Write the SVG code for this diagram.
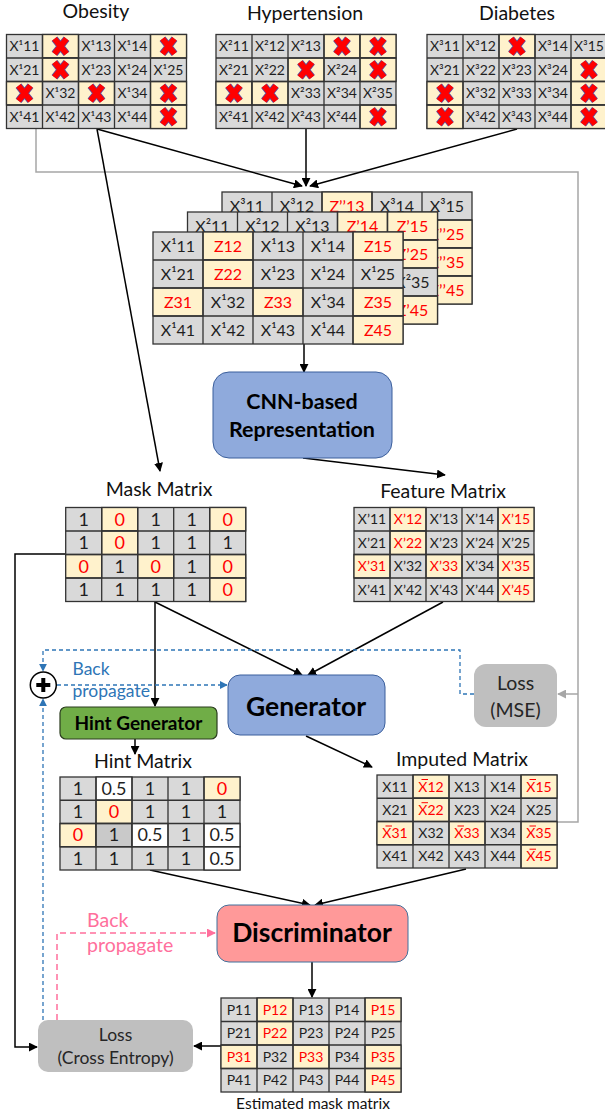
<svg xmlns="http://www.w3.org/2000/svg" xmlns:xlink="http://www.w3.org/1999/xlink" width="605" height="1118" viewBox="0 0 605 1118">
<style>
  .g{fill:#d9d9d9;stroke:#333;stroke-width:1.3}
  .g2{fill:#c9c9c9;stroke:#333;stroke-width:1.3}
  .y{fill:#fff2cc;stroke:#333;stroke-width:1.3}
  .w{fill:#ffffff;stroke:#333;stroke-width:1.3}
  .grid{fill:none;stroke:#333;stroke-width:1.3}
  text{font-family:Lato,"Open Sans",sans-serif;fill:#1f1f1f}
  .c13{font-size:14px;text-anchor:middle}
  .c15{font-size:16px;text-anchor:middle}
  .c17{font-size:18px;text-anchor:middle}
  .r{fill:#ff0000}
  .title{font-size:19.5px;text-anchor:middle;fill:#111}
  .bold{font-weight:bold;text-anchor:middle;fill:#000}
  .ln{fill:none;stroke:#000;stroke-width:1.5}
  .gray{fill:none;stroke:#a6a6a6;stroke-width:1.5}
  .blue{fill:none;stroke:#2e75b6;stroke-width:1.3;stroke-dasharray:4 3}
  .pink{fill:none;stroke:#ff6f9c;stroke-width:1.5;stroke-dasharray:6 4}
  .bar{stroke:#ff0000;stroke-width:1}
</style>
<defs>
  <marker id="ah" viewBox="0 0 10 10" refX="9" refY="5" markerWidth="9" markerHeight="9" markerUnits="userSpaceOnUse" orient="auto">
    <path d="M0,0 L10,5 L0,10 z" fill="#000"/>
  </marker>
  <marker id="ahg" viewBox="0 0 10 10" refX="9" refY="5" markerWidth="9" markerHeight="9" markerUnits="userSpaceOnUse" orient="auto">
    <path d="M0,0 L10,5 L0,10 z" fill="#a6a6a6"/>
  </marker>
  <marker id="ahb" viewBox="0 0 10 10" refX="9" refY="5" markerWidth="8" markerHeight="8" markerUnits="userSpaceOnUse" orient="auto">
    <path d="M0,0 L10,5 L0,10 z" fill="#2e75b6"/>
  </marker>
  <marker id="ahp" viewBox="0 0 10 10" refX="9" refY="5" markerWidth="9" markerHeight="9" markerUnits="userSpaceOnUse" orient="auto">
    <path d="M0,0 L10,5 L0,10 z" fill="#ff6f9c"/>
  </marker>
  <!-- missing-value cross -->
  <g id="xm">
    <path d="M-6,-7.5 L6,7.5 M6,-7.5 L-6,7.5" stroke="#5b4fa0" stroke-width="7.4" fill="none"/>
    <path d="M-6,-7.5 L6,7.5 M6,-7.5 L-6,7.5" stroke="#ff0000" stroke-width="5.8" fill="none"/>
  </g>
  <path id="grid5x4s" d="M36,0V94M72,0V94M108,0V94M144,0V94M0,23.5H180M0,47H180M0,70.5H180"/>
  <path id="grid5x4l" d="M50,0V112M100,0V112M150,0V112M200,0V112M0,28H250M0,56H250M0,84H250"/>
</defs>

<!-- connectors -->
<g id="connectors">
  <polyline class="gray" points="36,129 36,172 578,172 578,822 557,822"/>
  <line class="gray" x1="578" y1="694" x2="558" y2="694" marker-end="url(#ahg)"/>
  <line class="ln" x1="97" y1="129" x2="302" y2="186" marker-end="url(#ah)"/>
  <line class="ln" x1="306" y1="129" x2="306" y2="186" marker-end="url(#ah)"/>
  <line class="ln" x1="517" y1="129" x2="310" y2="186" marker-end="url(#ah)"/>
  <line class="ln" x1="304" y1="344" x2="304" y2="372" marker-end="url(#ah)"/>
  <line class="ln" x1="97" y1="129" x2="160" y2="471" marker-end="url(#ah)"/>
  <line class="ln" x1="303" y1="458" x2="445" y2="475" marker-end="url(#ah)"/>
  <line class="ln" x1="155" y1="602" x2="155" y2="706" marker-end="url(#ah)"/>
  <line class="ln" x1="155" y1="602" x2="302" y2="675" marker-end="url(#ah)"/>
  <line class="ln" x1="443" y1="602" x2="308" y2="675" marker-end="url(#ah)"/>
  <line class="ln" x1="135" y1="739" x2="135" y2="754" marker-end="url(#ah)"/>
  <line class="ln" x1="306" y1="736" x2="372" y2="767" marker-end="url(#ah)"/>
  <line class="ln" x1="150" y1="870" x2="310" y2="905" marker-end="url(#ah)"/>
  <line class="ln" x1="466" y1="869" x2="315" y2="905" marker-end="url(#ah)"/>
  <line class="ln" x1="312" y1="962" x2="312" y2="997" marker-end="url(#ah)"/>
  <line class="ln" x1="221" y1="1046" x2="194" y2="1046" marker-end="url(#ah)"/>
  <polyline class="ln" points="65.7,554 15,554 15,1047 37,1047" marker-end="url(#ah)"/>
  <polyline class="blue" points="474,694 460,694 460,650 43,650 43,671" marker-end="url(#ahb)"/>
  <line class="blue" x1="57" y1="685" x2="227" y2="685" marker-end="url(#ahb)"/>
  <line class="blue" x1="43" y1="1020" x2="43" y2="699" marker-end="url(#ahb)"/>
  <polyline class="pink" points="57,1020 57,933 215,933" marker-end="url(#ahp)"/>
  <text x="72.5" y="675" style="font-size:17.5px;fill:#2e75b6">Back</text>
  <text x="72.5" y="697" style="font-size:17.5px;fill:#2e75b6">propagate</text>
  <text x="87" y="927" style="font-size:19.5px;fill:#ff6f9c">Back</text>
  <text x="87" y="952" style="font-size:19.5px;fill:#ff6f9c">propagate</text>
</g>

<!-- Obesity -->
<g id="obesity">
  <text class="title" x="96" y="18">Obesity</text>
  <g transform="translate(6.5,34.5)">
    <rect class="g" width="180" height="94"/>
    <rect class="y" x="36" y="0" width="36" height="23.5"/>
    <rect class="y" x="144" y="0" width="36" height="23.5"/>
    <rect class="y" x="36" y="23.5" width="36" height="23.5"/>
    <rect class="y" x="0" y="47" width="36" height="23.5"/>
    <rect class="y" x="72" y="47" width="36" height="23.5"/>
    <rect class="y" x="144" y="47" width="36" height="23.5"/>
    <rect class="y" x="144" y="70.5" width="36" height="23.5"/>
    <use xlink:href="#grid5x4s" class="grid"/>
    <use xlink:href="#xm" x="54" y="11.75"/>
    <use xlink:href="#xm" x="162" y="11.75"/>
    <use xlink:href="#xm" x="54" y="35.25"/>
    <use xlink:href="#xm" x="18" y="58.75"/>
    <use xlink:href="#xm" x="90" y="58.75"/>
    <use xlink:href="#xm" x="162" y="58.75"/>
    <use xlink:href="#xm" x="162" y="82.25"/>
    <text class="c13" x="18" y="16.8">X¹11</text>
    <text class="c13" x="90" y="16.8">X¹13</text>
    <text class="c13" x="126" y="16.8">X¹14</text>
    <text class="c13" x="18" y="40.3">X¹21</text>
    <text class="c13" x="90" y="40.3">X¹23</text>
    <text class="c13" x="126" y="40.3">X¹24</text>
    <text class="c13" x="162" y="40.3">X¹25</text>
    <text class="c13" x="54" y="63.8">X¹32</text>
    <text class="c13" x="126" y="63.8">X¹34</text>
    <text class="c13" x="18" y="87.3">X¹41</text>
    <text class="c13" x="54" y="87.3">X¹42</text>
    <text class="c13" x="90" y="87.3">X¹43</text>
    <text class="c13" x="126" y="87.3">X¹44</text>
  </g>
</g>

<!-- Hypertension -->
<g id="hypertension">
  <text class="title" x="305" y="20">Hypertension</text>
  <g transform="translate(216,34.5)">
    <rect class="g" width="180" height="94"/>
    <rect class="y" x="108" y="0" width="36" height="23.5"/>
    <rect class="y" x="144" y="0" width="36" height="23.5"/>
    <rect class="y" x="72" y="23.5" width="36" height="23.5"/>
    <rect class="y" x="144" y="23.5" width="36" height="23.5"/>
    <rect class="y" x="0" y="47" width="36" height="23.5"/>
    <rect class="y" x="36" y="47" width="36" height="23.5"/>
    <rect class="y" x="144" y="70.5" width="36" height="23.5"/>
    <use xlink:href="#grid5x4s" class="grid"/>
    <use xlink:href="#xm" x="126" y="11.75"/>
    <use xlink:href="#xm" x="162" y="11.75"/>
    <use xlink:href="#xm" x="90" y="35.25"/>
    <use xlink:href="#xm" x="162" y="35.25"/>
    <use xlink:href="#xm" x="18" y="58.75"/>
    <use xlink:href="#xm" x="54" y="58.75"/>
    <use xlink:href="#xm" x="162" y="82.25"/>
    <text class="c13" x="18" y="16.8">X²11</text>
    <text class="c13" x="54" y="16.8">X²12</text>
    <text class="c13" x="90" y="16.8">X²13</text>
    <text class="c13" x="18" y="40.3">X²21</text>
    <text class="c13" x="54" y="40.3">X²22</text>
    <text class="c13" x="126" y="40.3">X²24</text>
    <text class="c13" x="90" y="63.8">X²33</text>
    <text class="c13" x="126" y="63.8">X²34</text>
    <text class="c13" x="162" y="63.8">X²35</text>
    <text class="c13" x="18" y="87.3">X²41</text>
    <text class="c13" x="54" y="87.3">X²42</text>
    <text class="c13" x="90" y="87.3">X²43</text>
    <text class="c13" x="126" y="87.3">X²44</text>
  </g>
</g>

<!-- Diabetes -->
<g id="diabetes">
  <text class="title" x="517" y="20">Diabetes</text>
  <g transform="translate(427,34.5)">
    <rect class="g" width="180" height="94"/>
    <rect class="y" x="72" y="0" width="36" height="23.5"/>
    <rect class="y" x="144" y="23.5" width="36" height="23.5"/>
    <rect class="y" x="0" y="47" width="36" height="23.5"/>
    <rect class="y" x="144" y="47" width="36" height="23.5"/>
    <rect class="y" x="0" y="70.5" width="36" height="23.5"/>
    <rect class="y" x="144" y="70.5" width="36" height="23.5"/>
    <use xlink:href="#grid5x4s" class="grid"/>
    <use xlink:href="#xm" x="90" y="11.75"/>
    <use xlink:href="#xm" x="162" y="35.25"/>
    <use xlink:href="#xm" x="18" y="58.75"/>
    <use xlink:href="#xm" x="162" y="58.75"/>
    <use xlink:href="#xm" x="18" y="82.25"/>
    <use xlink:href="#xm" x="162" y="82.25"/>
    <text class="c13" x="18" y="16.8">X³11</text>
    <text class="c13" x="54" y="16.8">X³12</text>
    <text class="c13" x="126" y="16.8">X³14</text>
    <text class="c13" x="162" y="16.8">X³15</text>
    <text class="c13" x="18" y="40.3">X³21</text>
    <text class="c13" x="54" y="40.3">X³22</text>
    <text class="c13" x="90" y="40.3">X³23</text>
    <text class="c13" x="126" y="40.3">X³24</text>
    <text class="c13" x="54" y="63.8">X³32</text>
    <text class="c13" x="90" y="63.8">X³33</text>
    <text class="c13" x="126" y="63.8">X³34</text>
    <text class="c13" x="54" y="87.3">X³42</text>
    <text class="c13" x="90" y="87.3">X³43</text>
    <text class="c13" x="126" y="87.3">X³44</text>
  </g>
</g>

<!-- stacked input tensor: back, middle, front layers -->
<g id="stack-back" transform="translate(222,192)">
  <rect class="g" width="250" height="112"/>
  <rect class="y" x="100" y="0" width="50" height="28"/>
  <rect class="y" x="200" y="28" width="50" height="28"/>
  <rect class="y" x="0" y="56" width="50" height="28"/>
  <rect class="y" x="200" y="56" width="50" height="28"/>
  <rect class="y" x="0" y="84" width="50" height="28"/>
  <rect class="y" x="200" y="84" width="50" height="28"/>
  <use xlink:href="#grid5x4l" class="grid"/>
  <text class="c15" x="25" y="19.8">X³11</text>
  <text class="c15" x="75" y="19.8">X³12</text>
  <text class="c15 r" x="125" y="19.8">Z’’13</text>
  <text class="c15" x="175" y="19.8">X³14</text>
  <text class="c15" x="225" y="19.8">X³15</text>
  <text class="c15 r" x="225" y="47.8">Z’’25</text>
  <text class="c15 r" x="225" y="75.8">Z’’35</text>
  <text class="c15 r" x="225" y="103.8">Z’’45</text>
</g>
<g id="stack-middle" transform="translate(187.5,212)">
  <rect class="g" width="250" height="112"/>
  <rect class="y" x="150" y="0" width="50" height="28"/>
  <rect class="y" x="200" y="0" width="50" height="28"/>
  <rect class="y" x="100" y="28" width="50" height="28"/>
  <rect class="y" x="200" y="28" width="50" height="28"/>
  <rect class="y" x="0" y="56" width="50" height="28"/>
  <rect class="y" x="50" y="56" width="50" height="28"/>
  <rect class="y" x="200" y="84" width="50" height="28"/>
  <use xlink:href="#grid5x4l" class="grid"/>
  <text class="c15" x="25" y="19.8">X²11</text>
  <text class="c15" x="75" y="19.8">X²12</text>
  <text class="c15" x="125" y="19.8">X²13</text>
  <text class="c15 r" x="175" y="19.8">Z’14</text>
  <text class="c15 r" x="225" y="19.8">Z’15</text>
  <text class="c15 r" x="225" y="47.8">Z’25</text>
  <text class="c15" x="225" y="75.8">X²35</text>
  <text class="c15 r" x="225" y="103.8">Z’45</text>
</g>
<g id="stack-front" transform="translate(153,232)">
  <rect class="g" width="250" height="112"/>
  <rect class="y" x="50" y="0" width="50" height="28"/>
  <rect class="y" x="200" y="0" width="50" height="28"/>
  <rect class="y" x="50" y="28" width="50" height="28"/>
  <rect class="y" x="0" y="56" width="50" height="28"/>
  <rect class="y" x="100" y="56" width="50" height="28"/>
  <rect class="y" x="200" y="56" width="50" height="28"/>
  <rect class="y" x="200" y="84" width="50" height="28"/>
  <use xlink:href="#grid5x4l" class="grid"/>
  <text class="c15" x="25" y="19.8">X¹11</text>
  <text class="c15 r" x="75" y="19.8">Z12</text>
  <text class="c15" x="125" y="19.8">X¹13</text>
  <text class="c15" x="175" y="19.8">X¹14</text>
  <text class="c15 r" x="225" y="19.8">Z15</text>
  <text class="c15" x="25" y="47.8">X¹21</text>
  <text class="c15 r" x="75" y="47.8">Z22</text>
  <text class="c15" x="125" y="47.8">X¹23</text>
  <text class="c15" x="175" y="47.8">X¹24</text>
  <text class="c15" x="225" y="47.8">X¹25</text>
  <text class="c15 r" x="25" y="75.8">Z31</text>
  <text class="c15" x="75" y="75.8">X¹32</text>
  <text class="c15 r" x="125" y="75.8">Z33</text>
  <text class="c15" x="175" y="75.8">X¹34</text>
  <text class="c15 r" x="225" y="75.8">Z35</text>
  <text class="c15" x="25" y="103.8">X¹41</text>
  <text class="c15" x="75" y="103.8">X¹42</text>
  <text class="c15" x="125" y="103.8">X¹43</text>
  <text class="c15" x="175" y="103.8">X¹44</text>
  <text class="c15 r" x="225" y="103.8">Z45</text>
</g>

<!-- CNN block -->
<g id="cnn">
  <rect x="213" y="372" width="179" height="86" rx="16" fill="#8faadc" stroke="#3b5f9c" stroke-width="1"/>
  <text class="bold" x="302" y="409" style="font-size:21.5px">CNN-based</text>
  <text class="bold" x="302" y="437" style="font-size:21.5px">Representation</text>
</g>

<!-- Mask matrix -->
<g id="mask-matrix">
  <text class="title" x="159" y="496">Mask Matrix</text>
  <g transform="translate(65.7,507.5)">
    <rect class="g" width="180" height="94"/>
    <rect class="y" x="36" y="0" width="36" height="23.5"/>
    <rect class="y" x="144" y="0" width="36" height="23.5"/>
    <rect class="y" x="36" y="23.5" width="36" height="23.5"/>
    <rect class="y" x="0" y="47" width="36" height="23.5"/>
    <rect class="y" x="72" y="47" width="36" height="23.5"/>
    <rect class="y" x="144" y="47" width="36" height="23.5"/>
    <rect class="y" x="144" y="70.5" width="36" height="23.5"/>
    <use xlink:href="#grid5x4s" class="grid"/>
    <text class="c17" x="18" y="18">1</text>
    <text class="c17 r" x="54" y="18">0</text>
    <text class="c17" x="90" y="18">1</text>
    <text class="c17" x="126" y="18">1</text>
    <text class="c17 r" x="162" y="18">0</text>
    <text class="c17" x="18" y="41.5">1</text>
    <text class="c17 r" x="54" y="41.5">0</text>
    <text class="c17" x="90" y="41.5">1</text>
    <text class="c17" x="126" y="41.5">1</text>
    <text class="c17" x="162" y="41.5">1</text>
    <text class="c17 r" x="18" y="65">0</text>
    <text class="c17" x="54" y="65">1</text>
    <text class="c17 r" x="90" y="65">0</text>
    <text class="c17" x="126" y="65">1</text>
    <text class="c17 r" x="162" y="65">0</text>
    <text class="c17" x="18" y="88.5">1</text>
    <text class="c17" x="54" y="88.5">1</text>
    <text class="c17" x="90" y="88.5">1</text>
    <text class="c17" x="126" y="88.5">1</text>
    <text class="c17 r" x="162" y="88.5">0</text>
  </g>
</g>

<!-- Feature matrix -->
<g id="feature-matrix">
  <text class="title" x="443" y="498">Feature Matrix</text>
  <g transform="translate(354,507.5)">
    <rect class="g" width="180" height="94"/>
    <rect class="y" x="36" y="0" width="36" height="23.5"/>
    <rect class="y" x="144" y="0" width="36" height="23.5"/>
    <rect class="y" x="36" y="23.5" width="36" height="23.5"/>
    <rect class="y" x="0" y="47" width="36" height="23.5"/>
    <rect class="y" x="72" y="47" width="36" height="23.5"/>
    <rect class="y" x="144" y="47" width="36" height="23.5"/>
    <rect class="y" x="144" y="70.5" width="36" height="23.5"/>
    <use xlink:href="#grid5x4s" class="grid"/>
    <text class="c13" x="18" y="16.8">X’11</text>
    <text class="c13 r" x="54" y="16.8">X’12</text>
    <text class="c13" x="90" y="16.8">X’13</text>
    <text class="c13" x="126" y="16.8">X’14</text>
    <text class="c13 r" x="162" y="16.8">X’15</text>
    <text class="c13" x="18" y="40.3">X’21</text>
    <text class="c13 r" x="54" y="40.3">X’22</text>
    <text class="c13" x="90" y="40.3">X’23</text>
    <text class="c13" x="126" y="40.3">X’24</text>
    <text class="c13" x="162" y="40.3">X’25</text>
    <text class="c13 r" x="18" y="63.8">X’31</text>
    <text class="c13" x="54" y="63.8">X’32</text>
    <text class="c13 r" x="90" y="63.8">X’33</text>
    <text class="c13" x="126" y="63.8">X’34</text>
    <text class="c13 r" x="162" y="63.8">X’35</text>
    <text class="c13" x="18" y="87.3">X’41</text>
    <text class="c13" x="54" y="87.3">X’42</text>
    <text class="c13" x="90" y="87.3">X’43</text>
    <text class="c13" x="126" y="87.3">X’44</text>
    <text class="c13 r" x="162" y="87.3">X’45</text>
  </g>
</g>

<!-- sum node -->
<g id="sum">
  <circle cx="43.3" cy="685" r="13" fill="#fff" stroke="#000" stroke-width="1.5"/>
  <path d="M36.3,685H50.3M43.3,678V692" stroke="#000" stroke-width="4"/>
</g>

<!-- Generator -->
<g id="generator">
  <rect x="228" y="675" width="157" height="60" rx="12" fill="#8faadc" stroke="#3b5f9c" stroke-width="1"/>
  <text class="bold" x="306" y="716" style="font-size:26.5px">Generator</text>
</g>

<!-- Hint generator -->
<g id="hint-generator">
  <rect x="60" y="707" width="157" height="32" rx="6" fill="#70ad47" stroke="#2b3d1f" stroke-width="1.2"/>
  <text class="bold" x="138.5" y="730" style="font-size:19px">Hint Generator</text>
</g>

<!-- Loss (MSE) -->
<g id="loss-mse">
  <rect x="474" y="664" width="83" height="63" rx="12" fill="#bfbfbf"/>
  <text x="515.5" y="690" style="font-size:19.5px;text-anchor:middle;fill:#262626">Loss</text>
  <text x="515.5" y="717" style="font-size:19.5px;text-anchor:middle;fill:#262626">(MSE)</text>
</g>

<!-- Hint matrix -->
<g id="hint-matrix">
  <text class="title" x="143" y="768">Hint Matrix</text>
  <g transform="translate(60,777)">
    <rect class="g" width="180" height="93"/>
    <rect class="w" x="36" y="0" width="36" height="23.25"/>
    <rect class="y" x="144" y="0" width="36" height="23.25"/>
    <rect class="y" x="36" y="23.25" width="36" height="23.25"/>
    <rect class="y" x="0" y="46.5" width="36" height="23.25"/>
    <rect class="g2" x="36" y="46.5" width="36" height="23.25"/>
    <rect class="w" x="72" y="46.5" width="36" height="23.25"/>
    <rect class="w" x="144" y="46.5" width="36" height="23.25"/>
    <rect class="w" x="144" y="69.75" width="36" height="23.25"/>
    <path class="grid" d="M36,0V93M72,0V93M108,0V93M144,0V93M0,23.25H180M0,46.5H180M0,69.75H180"/>
    <text class="c17" x="18" y="17.9">1</text>
    <text class="c17" x="54" y="17.9">0.5</text>
    <text class="c17" x="90" y="17.9">1</text>
    <text class="c17" x="126" y="17.9">1</text>
    <text class="c17 r" x="162" y="17.9">0</text>
    <text class="c17" x="18" y="41.2">1</text>
    <text class="c17 r" x="54" y="41.2">0</text>
    <text class="c17" x="90" y="41.2">1</text>
    <text class="c17" x="126" y="41.2">1</text>
    <text class="c17" x="162" y="41.2">1</text>
    <text class="c17 r" x="18" y="64.4">0</text>
    <text class="c17" x="54" y="64.4">1</text>
    <text class="c17" x="90" y="64.4">0.5</text>
    <text class="c17" x="126" y="64.4">1</text>
    <text class="c17" x="162" y="64.4">0.5</text>
    <text class="c17" x="18" y="87.7">1</text>
    <text class="c17" x="54" y="87.7">1</text>
    <text class="c17" x="90" y="87.7">1</text>
    <text class="c17" x="126" y="87.7">1</text>
    <text class="c17" x="162" y="87.7">0.5</text>
  </g>
</g>

<!-- Imputed matrix -->
<g id="imputed-matrix">
  <text class="title" x="462" y="766">Imputed Matrix</text>
  <g transform="translate(377,775)">
    <rect class="g" width="180" height="93"/>
    <rect class="y" x="36" y="0" width="36" height="23.25"/>
    <rect class="y" x="144" y="0" width="36" height="23.25"/>
    <rect class="y" x="36" y="23.25" width="36" height="23.25"/>
    <rect class="y" x="0" y="46.5" width="36" height="23.25"/>
    <rect class="y" x="72" y="46.5" width="36" height="23.25"/>
    <rect class="y" x="144" y="46.5" width="36" height="23.25"/>
    <rect class="y" x="144" y="69.75" width="36" height="23.25"/>
    <path class="grid" d="M36,0V93M72,0V93M108,0V93M144,0V93M0,23.25H180M0,46.5H180M0,69.75H180"/>
    <text class="c13" x="18" y="16.7">X11</text>
    <text class="c13 r" x="54" y="16.7">X12</text>
    <text class="c13" x="90" y="16.7">X13</text>
    <text class="c13" x="126" y="16.7">X14</text>
    <text class="c13 r" x="162" y="16.7">X15</text>
    <text class="c13" x="18" y="39.9">X21</text>
    <text class="c13 r" x="54" y="39.9">X22</text>
    <text class="c13" x="90" y="39.9">X23</text>
    <text class="c13" x="126" y="39.9">X24</text>
    <text class="c13" x="162" y="39.9">X25</text>
    <text class="c13 r" x="18" y="63.2">X31</text>
    <text class="c13" x="54" y="63.2">X32</text>
    <text class="c13 r" x="90" y="63.2">X33</text>
    <text class="c13" x="126" y="63.2">X34</text>
    <text class="c13 r" x="162" y="63.2">X35</text>
    <text class="c13" x="18" y="86.4">X41</text>
    <text class="c13" x="54" y="86.4">X42</text>
    <text class="c13" x="90" y="86.4">X43</text>
    <text class="c13" x="126" y="86.4">X44</text>
    <text class="c13 r" x="162" y="86.4">X45</text>
    <!-- bars over imputed entries -->
    <path class="bar" d="M44.5,4.5H51M152.5,4.5H159M44.5,27.7H51M8.5,51H15M80.5,51H87M152.5,51H159M152.5,74.2H159"/>
  </g>
</g>

<!-- Discriminator -->
<g id="discriminator">
  <rect x="217" y="905" width="191" height="57" rx="12" fill="#ff9999" stroke="#41719c" stroke-width="1"/>
  <text class="bold" x="312" y="942" style="font-size:26.5px">Discriminator</text>
</g>

<!-- Loss (Cross Entropy) -->
<g id="loss-ce">
  <rect x="38" y="1020" width="155" height="52" rx="10" fill="#bfbfbf"/>
  <text x="115.5" y="1041" style="font-size:17.5px;text-anchor:middle;fill:#262626">Loss</text>
  <text x="115.5" y="1064" style="font-size:17.5px;text-anchor:middle;fill:#262626">(Cross Entropy)</text>
</g>

<!-- Estimated mask matrix -->
<g id="estimated-mask">
  <g transform="translate(221,998)">
    <rect class="g" width="180" height="94"/>
    <rect class="y" x="36" y="0" width="36" height="23.5"/>
    <rect class="y" x="144" y="0" width="36" height="23.5"/>
    <rect class="y" x="36" y="23.5" width="36" height="23.5"/>
    <rect class="y" x="0" y="47" width="36" height="23.5"/>
    <rect class="y" x="72" y="47" width="36" height="23.5"/>
    <rect class="y" x="144" y="47" width="36" height="23.5"/>
    <rect class="y" x="144" y="70.5" width="36" height="23.5"/>
    <use xlink:href="#grid5x4s" class="grid"/>
    <text class="c13" x="18" y="16.8">P11</text>
    <text class="c13 r" x="54" y="16.8">P12</text>
    <text class="c13" x="90" y="16.8">P13</text>
    <text class="c13" x="126" y="16.8">P14</text>
    <text class="c13 r" x="162" y="16.8">P15</text>
    <text class="c13" x="18" y="40.3">P21</text>
    <text class="c13 r" x="54" y="40.3">P22</text>
    <text class="c13" x="90" y="40.3">P23</text>
    <text class="c13" x="126" y="40.3">P24</text>
    <text class="c13" x="162" y="40.3">P25</text>
    <text class="c13 r" x="18" y="63.8">P31</text>
    <text class="c13" x="54" y="63.8">P32</text>
    <text class="c13 r" x="90" y="63.8">P33</text>
    <text class="c13" x="126" y="63.8">P34</text>
    <text class="c13 r" x="162" y="63.8">P35</text>
    <text class="c13" x="18" y="87.3">P41</text>
    <text class="c13" x="54" y="87.3">P42</text>
    <text class="c13" x="90" y="87.3">P43</text>
    <text class="c13" x="126" y="87.3">P44</text>
    <text class="c13 r" x="162" y="87.3">P45</text>
  </g>
  <text x="313" y="1109" style="font-size:15.5px;text-anchor:middle;fill:#111">Estimated mask matrix</text>
</g>
</svg>
